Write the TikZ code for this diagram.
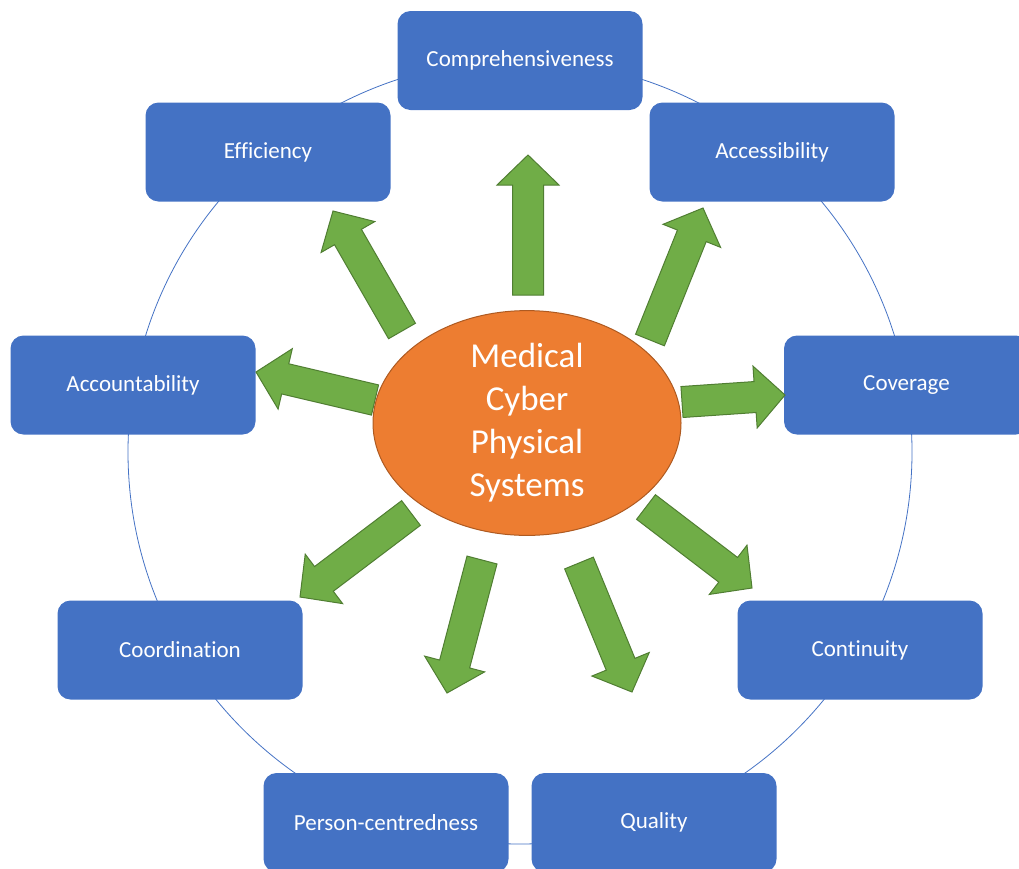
\documentclass[tikz,border=0pt]{standalone}
\usepackage{fontspec}
\setmainfont[Ligatures=NoCommon]{Carlito}
\usetikzlibrary{calc,shapes.geometric}
\definecolor{boxblue}{HTML}{4472C4}
\definecolor{arrgreen}{HTML}{70AD47}
\definecolor{arrborder}{HTML}{507E32}
\definecolor{ellorange}{HTML}{ED7D31}
\definecolor{ellborder}{HTML}{AE5A21}
\tikzset{
  topic/.style={rectangle, rounded corners=13pt, fill=boxblue, minimum width=245pt, minimum height=99pt,
    text=white, font=\fontsize{23}{27}\selectfont, inner sep=0pt},
  ring/.style={draw=boxblue, line width=0.8pt},
  blockarrow/.style={draw=arrborder, fill=arrgreen, line width=1pt, line join=miter},
  core/.style={ellipse, fill=ellorange, draw=ellborder, line width=1pt, minimum width=308pt, minimum height=158pt,
    text=white, align=center, inner sep=0pt, font=\fontsize{35}{43}\selectfont}
}
\newcommand\greenarrow[2]{%
  \coordinate (hb) at ($(#2)!30pt!(#1)$);
  \path[blockarrow] ($(#1)!15.5pt!90:(#2)$) -- ($(hb)!15.5pt!-90:(#1)$) -- ($(hb)!31pt!-90:(#1)$) -- (#2)
    -- ($(hb)!31pt!90:(#1)$) -- ($(hb)!15.5pt!90:(#1)$) -- ($(#1)!15.5pt!-90:(#2)$) -- cycle;}
\begin{document}
\begin{tikzpicture}[x=1pt,y=-1pt]
\useasboundingbox (0,0) rectangle (1019,868);
\node[circle, ring, minimum size=784pt, inner sep=0pt] (rim) at (520,452) {};
\node[topic] (comp) at (520,60.5) {Comprehensiveness};
\node[topic] (eff) at (268,152) {Efficiency};
\node[topic] (acc) at (772,152) {Accessibility};
\node[topic] (acct) at (133,385) {Accountability};
\node[topic] (cov) at (906.5,385) {Coverage};
\node[topic] (coord) at (180,650) {Coordination};
\node[topic] (cont) at (860,650) {Continuity};
\node[topic] (pers) at (386,822.5) {Person-centredness};
\node[topic] (qual) at (654,822.5) {Quality};
% arrow ends
\coordinate (t1) at (528,295); \coordinate (p1) at (528,155);
\coordinate (t2) at (402,331); \coordinate (p2) at (333,211);
\coordinate (t3) at (650,340); \coordinate (p3) at (703,208);
\coordinate (t4) at (375,400); \coordinate (p4) at (256,372);
\coordinate (t5) at (682,402); \coordinate (p5) at (785,395);
\coordinate (t6) at (411,513); \coordinate (p6) at (300,597);
\coordinate (t7) at (482,560); \coordinate (p7) at (447,693);
\coordinate (t8) at (579,563); \coordinate (p8) at (632,692);
\coordinate (t9) at (646,507); \coordinate (p9) at (752,588);
\greenarrow{t1}{p1}
\greenarrow{t2}{p2}
\greenarrow{t3}{p3}
\greenarrow{t4}{p4}
\greenarrow{t5}{p5}
\greenarrow{t6}{p6}
\greenarrow{t7}{p7}
\greenarrow{t8}{p8}
\greenarrow{t9}{p9}
\node[core] (mcps) at (527,423) {Medical\\Cyber\\Physical\\Systems};
\end{tikzpicture}
\end{document}
